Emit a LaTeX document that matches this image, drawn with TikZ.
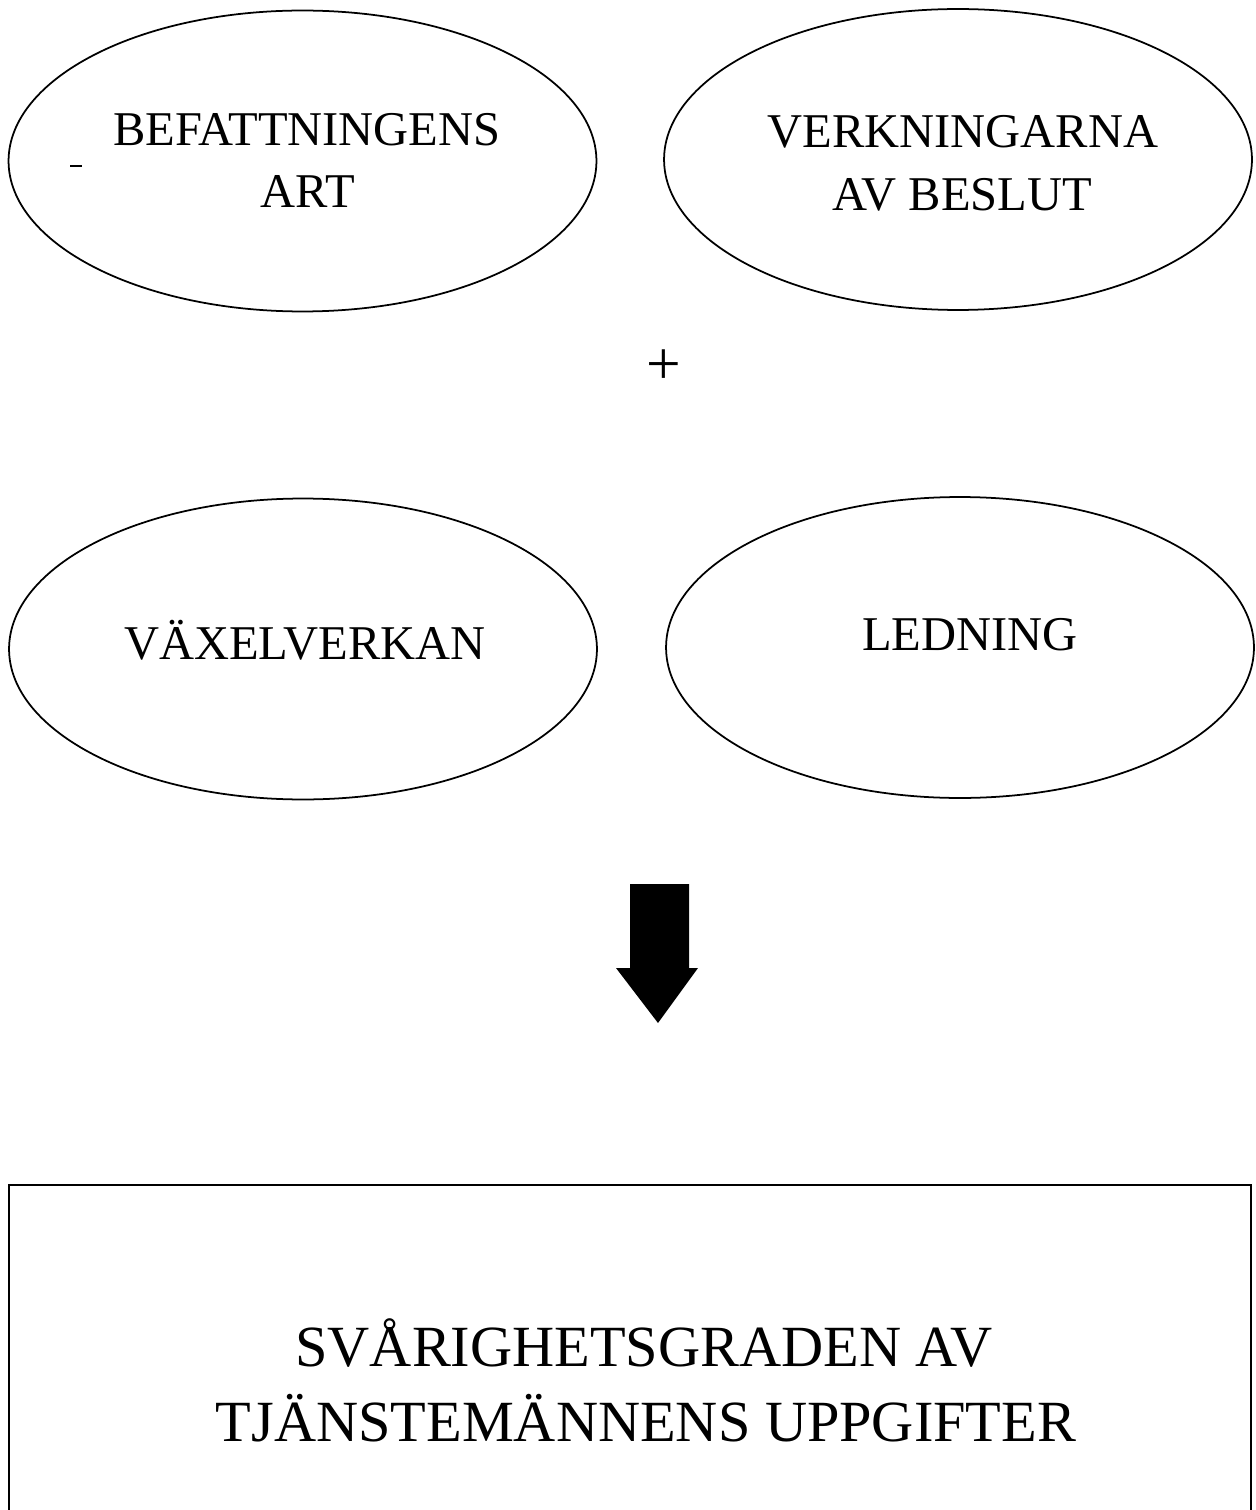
\documentclass[tikz,border=0pt]{standalone}
\usepackage{fontspec}
\setmainfont{Liberation Serif}
\usetikzlibrary{shapes.geometric}
\begin{document}
\begin{tikzpicture}[x=.02cm, y=-.02cm,
  oval/.style={draw, ellipse, line width=1pt, minimum width=11.76cm, minimum height=6.02cm, inner sep=0pt},
  lbl/.style={anchor=base, inner sep=0pt, font=\fontsize{27.6}{33}\selectfont},
  biglbl/.style={anchor=base, inner sep=0pt, font=\fontsize{33.2}{40}\selectfont}]
\useasboundingbox (0,0) rectangle (1256,1510);
\begin{scope}[draw, line width=1pt]
\path (302.5,161)  node[oval] (befattning) {};
\path (307,146)  node[lbl] (befattningA) {BEFATTNINGENS};
\path (308,208)  node[lbl] (befattningB) {ART};
\path (958,159.5)  node[oval] (verkningar) {};
\path (963,148)  node[lbl] (verkningarA) {VERKNINGARNA};
\path (962.5,211)  node[lbl] (verkningarB) {AV BESLUT};
\path (303,649)  node[oval] (vaxel) {};
\path (305,659)  node[lbl] (vaxelA) {VÄXELVERKAN};
\path (960,647.5)  node[oval] (ledning) {};
\path (970,650)  node[lbl] (ledningA) {LEDNING};
\end{scope}
\draw[line width=1.5pt] (70,166) -- (82,166);
\path (664,367)  node[inner sep=0pt, font=\fontsize{35}{40}\selectfont] (plus) {+};
% arrow down to the box
\fill (630,884) -- (689,884) -- (689,968) -- (698,968) -- (658,1023) -- (616,968) -- (630,968) -- cycle;
\draw[line width=1.4pt] (9,1515) -- (9,1185) -- (1251,1185) -- (1251,1515);
\path (644,1366)  node[biglbl] (gradA) {SVÅRIGHETSGRADEN AV};
\path (646,1441)  node[biglbl] (gradB) {TJÄNSTEMÄNNENS UPPGIFTER};
\end{tikzpicture}
\end{document}
